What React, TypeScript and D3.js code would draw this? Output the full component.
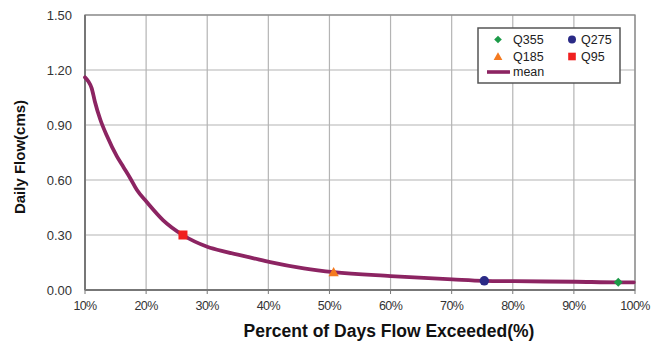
import React from 'react';
import * as d3 from 'd3';

// flow duration curve (mean)
const pct = [10, 10.5, 11.1, 11.6, 12.5, 13.6, 15.2, 16.3, 17.4, 18.5, 20.1, 22.8, 26.0, 30, 33.2, 37.6, 40.3, 45.8, 50.7, 60, 70.1, 75.3, 80.2, 90.3, 97.3, 99.8];
const flow = [1.16, 1.14, 1.10, 1.03, 0.93, 0.84, 0.73, 0.67, 0.61, 0.545, 0.48, 0.38, 0.30, 0.236, 0.207, 0.173, 0.152, 0.118, 0.097, 0.076, 0.058, 0.050, 0.048, 0.045, 0.042, 0.042];

// Q points: name, percent exceeded, flow
const qNames = ['Q95', 'Q185', 'Q275', 'Q355'];
const qPct = [26.03, 50.68, 75.34, 97.26];
const qFlow = [0.30, 0.097, 0.050, 0.042];

const xTicks = [10, 20, 30, 40, 50, 60, 70, 80, 90, 100];
const yTicks = [0, 0.3, 0.6, 0.9, 1.2, 1.5];

const lineColor = '#8c2462';

function Marker({ name, x, y, size }: { name: string; x: number; y: number; size: number }) {
  if (name === 'Q95') {
    return <rect x={x - size} y={y - size} width={size * 2} height={size * 2} fill="#f02020" />;
  }
  if (name === 'Q185') {
    const s = size * 1.15;
    return <path d={`M${x},${y - s} L${x + s},${y + s * 0.8} L${x - s},${y + s * 0.8} Z`} fill="#f47a20" />;
  }
  if (name === 'Q275') {
    return <circle cx={x} cy={y} r={size * 1.05} fill="#2a2a86" />;
  }
  return <path d={`M${x},${y - size} L${x + size},${y} L${x},${y + size} L${x - size},${y} Z`} fill="#1c9a48" />;
}

export default function App() {
  const width = 658, height = 343;
  const margin = { top: 15, right: 23, bottom: 53, left: 85 };
  const w = width - margin.left - margin.right;
  const h = height - margin.top - margin.bottom;

  const x = d3.scaleLinear().domain([10, 100]).range([0, w]);
  const y = d3.scaleLinear().domain([0, 1.5]).range([h, 0]);

  const pts = pct.map((p, i) => [p, flow[i]] as [number, number]);
  const line = d3.line<[number, number]>()
    .x(d => x(d[0]))
    .y(d => y(d[1]))
    .curve(d3.curveMonotoneX);

  const font = 'Arial, "Liberation Sans", sans-serif';

  const legendItems = [
    { name: 'Q355', col: 0, row: 0 },
    { name: 'Q275', col: 1, row: 0 },
    { name: 'Q185', col: 0, row: 1 },
    { name: 'Q95', col: 1, row: 1 },
  ];

  return (
    <svg width={width} height={height} style={{ position: 'absolute', left: 0, top: 0, background: '#fff' }}>
      <g transform={`translate(${margin.left},${margin.top})`} fontFamily={font}>
        {xTicks.map(t => (
          <line key={'gx' + t} x1={x(t)} x2={x(t)} y1={0} y2={h} stroke="#b4b4b4" strokeWidth={1.2} />
        ))}
        {yTicks.map(t => (
          <line key={'gy' + t} x1={0} x2={w} y1={y(t)} y2={y(t)} stroke="#b4b4b4" strokeWidth={1.2} />
        ))}
        {xTicks.map(t => (
          <line key={'tx' + t} x1={x(t)} x2={x(t)} y1={h} y2={h + 4} stroke="#777" strokeWidth={1} />
        ))}
        <rect x={0} y={0} width={w} height={h} fill="none" stroke="#8a8a8a" strokeWidth={1.3} />
        <line x1={0} x2={w} y1={h} y2={h} stroke="#777" strokeWidth={2} />
        <line x1={0} x2={0} y1={0} y2={h} stroke="#777" strokeWidth={2} />

        <path d={line(pts) || ''} fill="none" stroke={lineColor} strokeWidth={3.8} strokeLinejoin="round" strokeLinecap="round" />

        {qNames.map((n, i) => (
          <Marker key={n} name={n} x={x(qPct[i])} y={y(qFlow[i])} size={4.5} />
        ))}

        {yTicks.map(t => (
          <text key={'ly' + t} x={-13} y={y(t)} dy="0.35em" textAnchor="end" fontSize={13} fill="#333">
            {t.toFixed(2)}
          </text>
        ))}
        {xTicks.map(t => (
          <text key={'lx' + t} x={x(t)} y={h + 20} textAnchor="middle" fontSize={12.5} fill="#333" letterSpacing={-0.6}>
            {t + '%'}
          </text>
        ))}
      </g>

      <text x={389} y={337} textAnchor="middle" fontFamily={font} fontWeight="bold" fontSize={17.5} fill="#111">
        Percent of Days Flow Exceeded(%)
      </text>
      <text transform="translate(25,157) rotate(-90)" textAnchor="middle" fontFamily={font} fontWeight="bold" fontSize={15} fill="#111">
        Daily Flow(cms)
      </text>

      <g fontFamily={font}>
        <rect x={478} y={28} width={142} height={55} fill="#fff" stroke="#555" strokeWidth={1.5} />
        {legendItems.map(it => {
          const mx = it.col === 0 ? 498 : 572;
          const my = 39.5 + it.row * 17;
          return (
            <g key={it.name}>
              <Marker name={it.name} x={mx} y={my} size={3.8} />
              <text x={mx + (it.col === 0 ? 15 : 9)} y={my} dy="0.35em" fontSize={12.5} fill="#222">{it.name}</text>
            </g>
          );
        })}
        <line x1={487} x2={510} y1={72} y2={72} stroke={lineColor} strokeWidth={3.6} />
        <text x={513} y={72} dy="0.35em" fontSize={12.5} fill="#222">mean</text>
      </g>
    </svg>
  );
}
